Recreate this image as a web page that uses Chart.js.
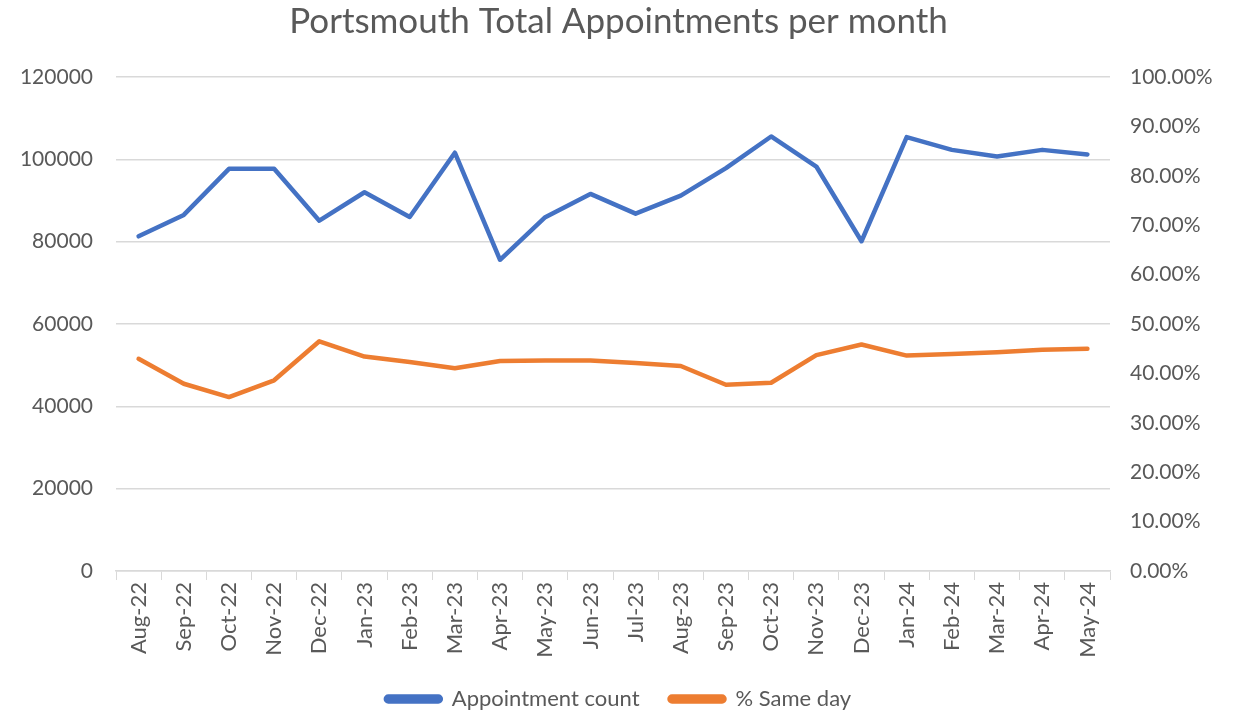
<!DOCTYPE html>
<html>
<head>
<meta charset="utf-8">
<script src="https://cdn.jsdelivr.net/npm/chart.js@4"></script>
<style>
  html, body { margin: 0; padding: 0; background: #fff; }
  #wrap { width: 1237px; height: 713px; }
</style>
</head>
<body>
<div id="wrap"><canvas id="myChart"></canvas></div>
<script>
var months = ["Aug-22", "Sep-22", "Oct-22", "Nov-22", "Dec-22", "Jan-23", "Feb-23", "Mar-23",
  "Apr-23", "May-23", "Jun-23", "Jul-23", "Aug-23", "Sep-23", "Oct-23", "Nov-23", "Dec-23",
  "Jan-24", "Feb-24", "Mar-24", "Apr-24", "May-24"];

var appointmentCount = [81300, 86500, 97700, 97700, 85100, 92000, 86000, 101600, 75600,
  85950, 91600, 86800, 91200, 97850, 105550, 98250, 80100, 105400, 102300, 100700, 102300, 101200];

var sameDayPct = [42.96, 37.9, 35.2, 38.6, 46.5, 43.4, 42.3, 41.05, 42.5, 42.6, 42.6, 42.1,
  41.5, 37.7, 38.1, 43.7, 45.85, 43.6, 43.95, 44.3, 44.8, 45.0];

var FONT = "Lato";
var GREY = "#595959";
var GRID = "#d9d9d9";

var ctx = document.getElementById("myChart").getContext("2d");

var config = {
  type: 'line',
  data: {
    labels: months,
    datasets: [{
      label: "Appointment count",
      data: appointmentCount,
      yAxisID: 'y',
      borderColor: '#4472C4',
      backgroundColor: '#4472C4',
      borderWidth: 4.5,
      pointRadius: 0,
      borderCapStyle: 'round',
      borderJoinStyle: 'round',
      tension: 0
    }, {
      label: "% Same day",
      data: sameDayPct,
      yAxisID: 'y1',
      borderColor: '#ED7D31',
      backgroundColor: '#ED7D31',
      borderWidth: 4.5,
      pointRadius: 0,
      borderCapStyle: 'round',
      borderJoinStyle: 'round',
      tension: 0
    }]
  },
  options: {
    responsive: false,
    animation: false,
    // small negative bottom padding so the legend row sits low with wide item spacing
    layout: { padding: { left: 0, right: 0, top: 1, bottom: -7 } },
    plugins: {
      title: {
        display: true,
        text: "Portsmouth Total Appointments per month",
        color: GREY,
        font: { family: FONT, size: 35, weight: 'normal' },
        padding: { top: 0, bottom: 34 }
      },
      legend: {
        position: 'bottom',
        labels: {
          color: GREY,
          font: { family: FONT, size: 22 },
          boxWidth: 55,
          boxHeight: 5,
          useBorderRadius: true,
          borderRadius: 2.5,
          padding: 30
        }
      },
      tooltip: { enabled: false }
    },
    scales: {
      x: {
        offset: true,
        grid: { offset: true, drawOnChartArea: false, drawTicks: true, tickLength: 9, color: GRID },
        border: { display: true, color: GRID, width: 1.5 },
        ticks: {
          color: GREY,
          font: { family: FONT, size: 22 },
          minRotation: 90,
          maxRotation: 90,
          autoSkip: false,
          padding: 2
        },
        afterFit: function (scale) { scale.height = 87; }
      },
      y: {
        position: 'left',
        min: 0,
        max: 120000,
        grid: { color: GRID, lineWidth: 1.5, drawTicks: false },
        border: { display: false },
        ticks: {
          stepSize: 20000,
          color: GREY,
          font: { family: FONT, size: 21 },
          padding: 23,
          callback: function (v) { return String(v); }
        },
        afterFit: function (scale) { scale.width = 116; }
      },
      y1: {
        position: 'right',
        min: 0,
        max: 100,
        grid: { drawOnChartArea: false, drawTicks: false },
        border: { display: false },
        ticks: {
          stepSize: 10,
          color: GREY,
          font: { family: FONT, size: 21 },
          padding: 20,
          callback: function (v) { return v.toFixed(2) + '%'; }
        },
        afterFit: function (scale) { scale.width = 127; }
      }
    }
  }
};

var canvas = document.getElementById("myChart");
canvas.width = 1237;
canvas.height = 713;
var chart = new Chart(ctx, config);
</script>
</body>
</html>
